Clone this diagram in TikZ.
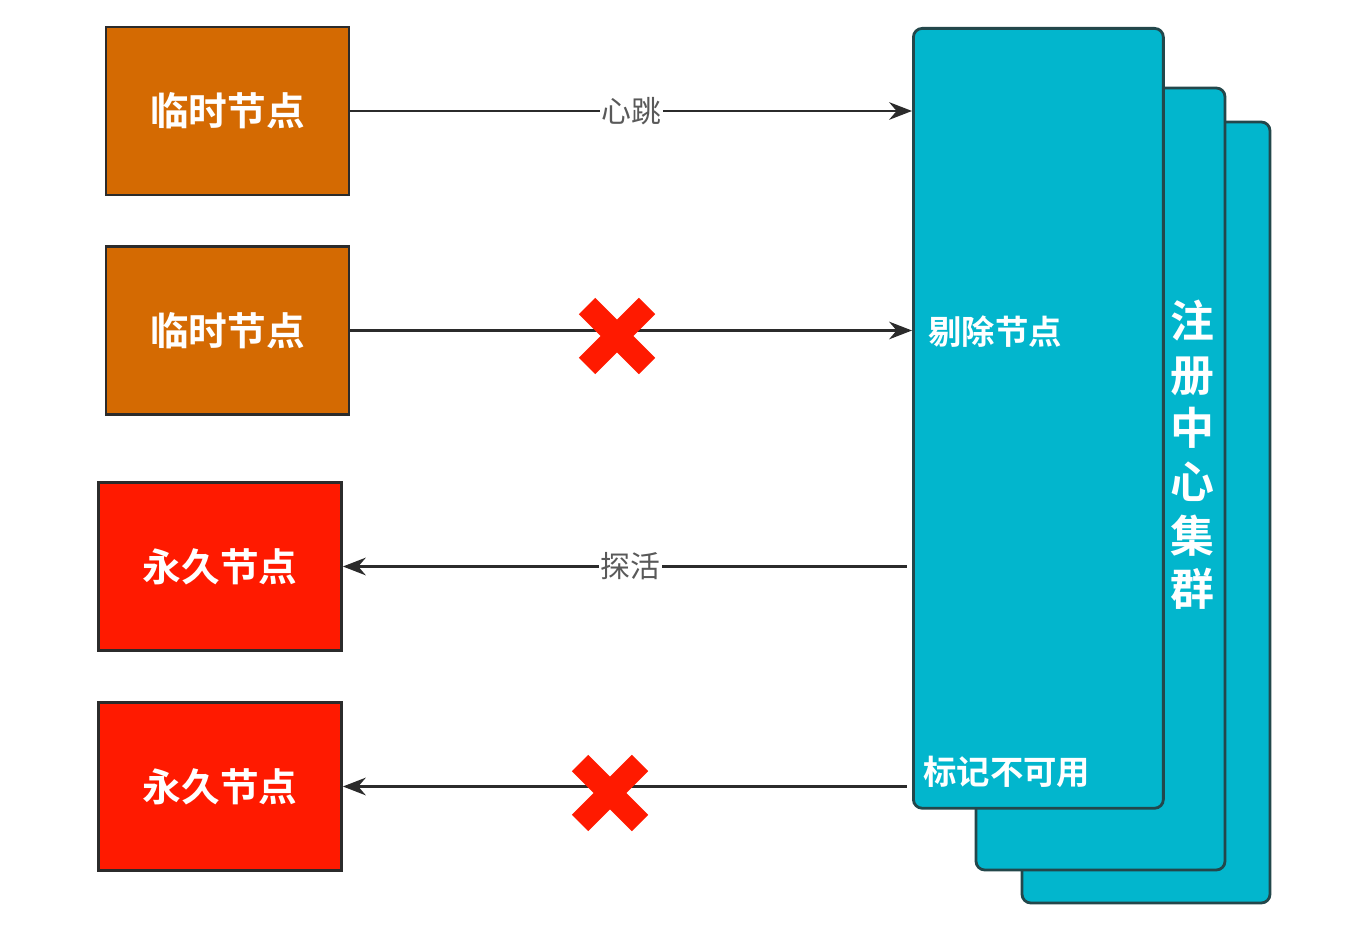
\documentclass[tikz,border=0pt]{standalone}
\usepackage{fontspec}
\newfontfamily\cjk{Noto Sans CJK SC}[BoldFont={Noto Sans CJK SC Bold}]
\usepackage{tikz}
\usetikzlibrary{arrows.meta}
\usetikzlibrary{positioning}

\definecolor{tmpnode}{HTML}{D46A02}
\definecolor{pernode}{HTML}{FF1A00}
\definecolor{cluster}{HTML}{02B6CD}
\definecolor{edge}{HTML}{2B2B2B}

\begin{document}
\begin{tikzpicture}[x=0.02cm,y=-0.02cm,
		nodebox/.style={draw=edge,line width=1.6pt,minimum width=4.86cm,minimum height=3.36cm,inner sep=0pt,text=white,font=\cjk\bfseries\fontsize{22}{25}\selectfont},
		tmp/.style={nodebox,fill=tmpnode},
		per/.style={nodebox,fill=pernode},
		layer/.style={draw=edge!80!cluster,line width=1.6pt,fill=cluster,rounded corners=5pt},
		conn/.style={draw=edge,line width=1.5pt,-{Stealth[length=13pt,width=10pt]}},
		lbl/.style={fill=white,inner sep=1pt,text=black!65,font=\cjk\fontsize{17}{20}\selectfont},
		inlbl/.style={text=white,inner sep=0pt,anchor=west,font=\cjk\bfseries\fontsize{19}{22}\selectfont},
		redx/.style={draw=pernode,line width=0.46cm}]
		\useasboundingbox (0,0) rectangle (1350,942);
		
		% registry cluster, back to front
		\draw[layer] (1022,122) rectangle (1270,903);
		\draw[layer] (976,88) rectangle (1225,870);
		\node[layer,minimum width=5cm,minimum height=15.6cm,anchor=north west] (front) at (912,27) {};
		\node[text=white,align=center,font=\cjk\bfseries\fontsize{25}{30.5}\selectfont] (title) at (1192,455) {注\\册\\中\\心\\集\\群};
		\node[inlbl] (drop) at (928,332) {剔除节点};
		\node[inlbl] (mark) at (923,772) {标记不可用};
		
		% client nodes
		\node[tmp] (t1) at (227.5,111) {临时节点};
		\node[tmp] (t2) at (227.5,330.5) {临时节点};
		\node[per] (p1) at (220,566.5) {永久节点};
		\node[per] (p2) at (220,786.5) {永久节点};
		
		% links
		\draw[conn] (t1.east) -- node[lbl] (beat) {心跳} (t1.east -| front.west);
		\draw[conn] (t2.east) -- (t2.east -| front.west);
		\draw[conn] ([xshift=-3pt]p1.east -| front.west) -- node[lbl,pos=0.49] (probe) {探活} (p1.east);
		\draw[conn] ([xshift=-3pt]p2.east -| front.west) -- (p2.east);
		
		% failed links
		\draw[redx] (587,306) -- (647,366) (587,366) -- (647,306);
		\draw[redx] (580,763) -- (640,823) (580,823) -- (640,763);
	\end{tikzpicture}
\end{document}
